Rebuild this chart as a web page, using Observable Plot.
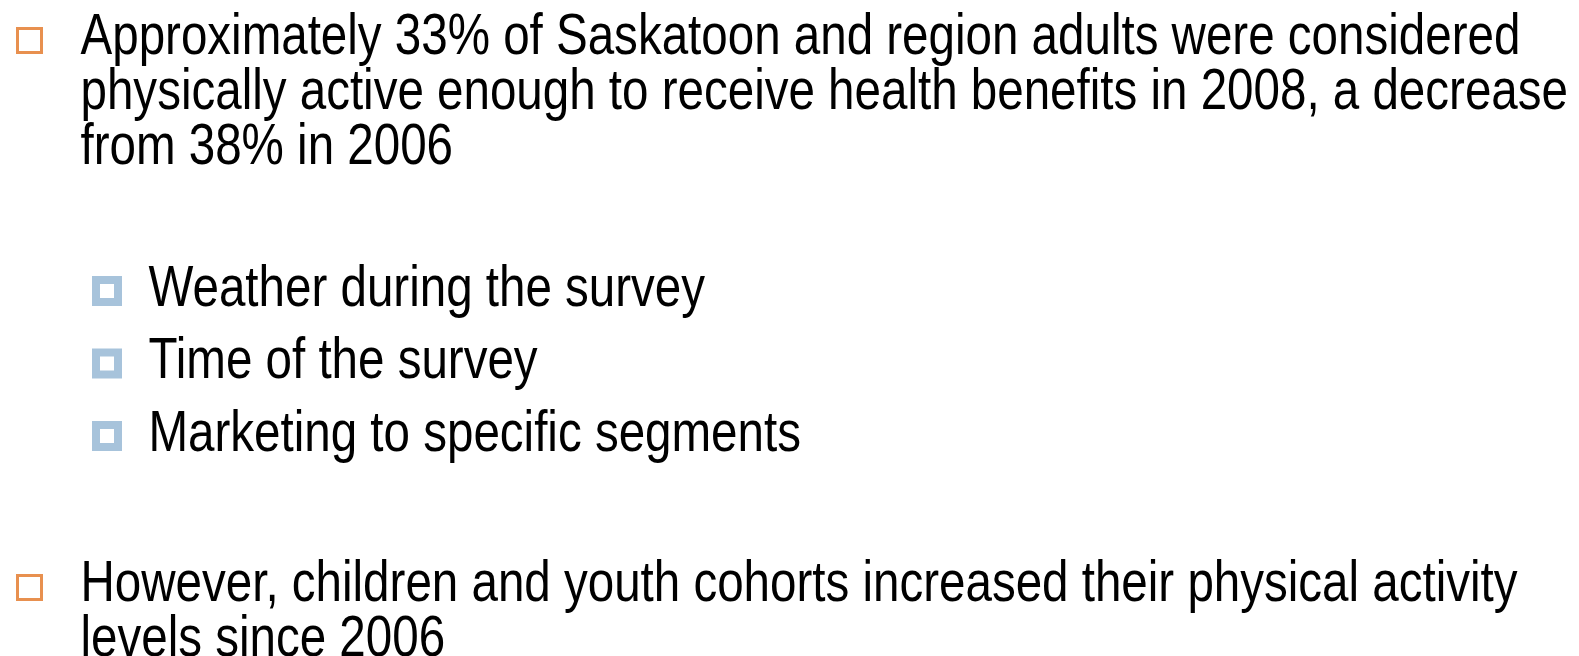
<!DOCTYPE html>
<html>
<head>
<meta charset="utf-8">
<script src="https://cdn.jsdelivr.net/npm/d3@7"></script>
<script src="https://cdn.jsdelivr.net/npm/@observablehq/plot@0.6"></script>
<style>
  html, body { margin: 0; padding: 0; background: #ffffff; }
  #chart svg { display: block; }
</style>
</head>
<body>
<div id="chart"></div>
<script>
// ---- content ----
const bulletLevels = [0, 1, 1, 1, 0];
const bulletLines = [
  ["Approximately 33% of Saskatoon and region adults were considered",
   "physically active enough to receive health benefits in 2008, a decrease",
   "from 38% in 2006"],
  ["Weather during the survey"],
  ["Time of the survey"],
  ["Marketing to specific segments"],
  ["However, children and youth cohorts increased their physical activity",
   "levels since 2006"]
];

// ---- layout ----
const W = 1579, H = 656;
const fontSize = 57;
const narrow = 0.834;              // Arial Narrow-like horizontal compression
const textX = {0: 80, 1: 148};
const lineStep = {0: 55, 1: 72.5};
const spaceBefore = [53, 142, 72.5, 72.5, 150];

const lines = [];
const bullets = [];
let y = 0;
bulletLines.forEach((para, i) => {
  const lvl = bulletLevels[i];
  y += spaceBefore[i];
  para.forEach((t, j) => {
    if (j > 0) y += lineStep[lvl];
    lines.push({text: t, x: textX[lvl], y});
  });
  const base = y - (para.length - 1) * lineStep[lvl];
  bullets.push({level: lvl, base});
});

const orange = bullets.filter(d => d.level === 0).map(d => ({x1: 17.5, x2: 41.5, y1: d.base - 24.5, y2: d.base - 0.5}));
const blue = bullets.filter(d => d.level === 1).map(d => ({x1: 96, x2: 118, y1: d.base - 25, y2: d.base - 3}));

const chart = Plot.plot({
  width: W,
  height: H,
  margin: 0,
  x: {type: "identity", axis: null},
  y: {type: "identity", axis: null},
  style: {background: "#ffffff"},
  marks: [
    Plot.rect(orange, {x1: "x1", x2: "x2", y1: "y1", y2: "y2", fill: "none", stroke: "#E8904F", strokeWidth: 3}),
    Plot.rect(blue, {x1: "x1", x2: "x2", y1: "y1", y2: "y2", fill: "none", stroke: "#A7C3DB", strokeWidth: 8}),
    Plot.text(lines, {
      x: "x", y: "y", text: "text",
      textAnchor: "start", lineAnchor: "bottom",
      fontSize, fontFamily: "'Liberation Sans', Arial, sans-serif",
      fill: "#000000"
    })
  ]
});
document.getElementById("chart").appendChild(chart);

// compress glyphs horizontally around each text anchor (narrow typeface look)
chart.querySelectorAll("text").forEach(t => {
  const tr = t.getAttribute("transform") || "";
  t.setAttribute("transform", tr + ` scale(${narrow},1)`);
});
</script>
</body>
</html>
